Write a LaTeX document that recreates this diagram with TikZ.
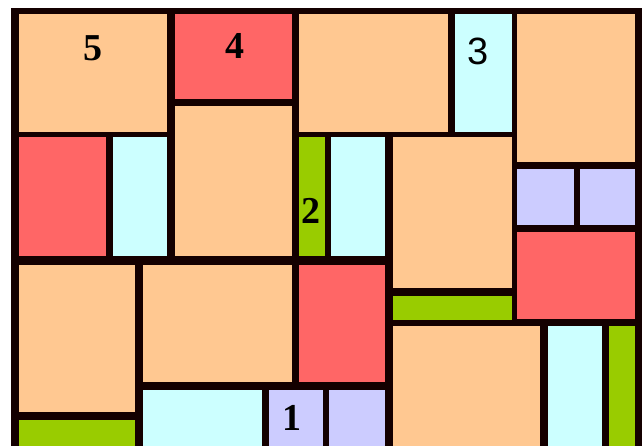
\documentclass[tikz,border=0pt]{standalone}
\usepackage{fontspec}
\setmainfont{Liberation Serif}
\newfontfamily\labsans{Liberation Sans}
\definecolor{cpeach}{HTML}{FFC891}
\definecolor{cred}{HTML}{FF6666}
\definecolor{ccyan}{HTML}{CCFFFF}
\definecolor{clav}{HTML}{CCCCFF}
\definecolor{cgreen}{HTML}{99CC00}
\definecolor{cframe}{HTML}{140000}
\tikzset{
  peach/.style={fill=cpeach},
  redc/.style={fill=cred},
  cyanc/.style={fill=ccyan},
  lav/.style={fill=clav},
  grn/.style={fill=cgreen},
  numlab/.style={font=\bfseries\fontsize{38}{38}\selectfont, inner sep=0pt},
  numsans/.style={font=\labsans\fontsize{38}{38}\selectfont, inner sep=0pt}
}
\begin{document}
\begin{tikzpicture}[x=1pt,y=-1pt]
\useasboundingbox (0,0) rectangle (644,446);
\fill[white] (0,0) rectangle (644,446);
\fill[cframe] (11,8) rectangle (642,446);
% top row
\fill[peach] (19,14) rectangle (167,132);
\fill[redc]  (175,14) rectangle (292,99);
\fill[peach] (175,106) rectangle (292,256);
\fill[peach] (299,14) rectangle (448,132);
\fill[cyanc] (455,14) rectangle (512,132);
\fill[peach] (517,14) rectangle (635,162);
\fill[lav]   (517,169) rectangle (574,225);
\fill[lav]   (580,169) rectangle (635,225);
% second row
\fill[redc]  (19,137) rectangle (106,256);
\fill[cyanc] (113,137) rectangle (167,256);
\fill[grn]   (299,137) rectangle (325,256);
\fill[cyanc] (331,137) rectangle (385,256);
\fill[peach] (393,137) rectangle (512,288);
\fill[redc]  (517,232) rectangle (635,319);
\fill[grn]   (393,296) rectangle (512,320);
% lower rows
\fill[peach] (393,326) rectangle (540,446);
\fill[cyanc] (548,326) rectangle (602,446);
\fill[grn]   (609,326) rectangle (635,446);
\fill[peach] (19,265) rectangle (135,412);
\fill[grn]   (19,420) rectangle (135,446);
\fill[peach] (143,265) rectangle (292,382);
\fill[cyanc] (143,390) rectangle (262,446);
\fill[lav]   (269,390) rectangle (323,446);
\fill[lav]   (329,390) rectangle (385,446);
\fill[redc]  (299,265) rectangle (385,382);
% labels
\node[numlab] (l5) at (93,48) {5};
\node[numlab] (l4) at (235,46) {4};
\node[numsans] (l3) at (478,51) {3};
\node[numlab] (l2) at (311,211) {2};
\node[numlab] (l1) at (292,418) {1};
\end{tikzpicture}
\end{document}
